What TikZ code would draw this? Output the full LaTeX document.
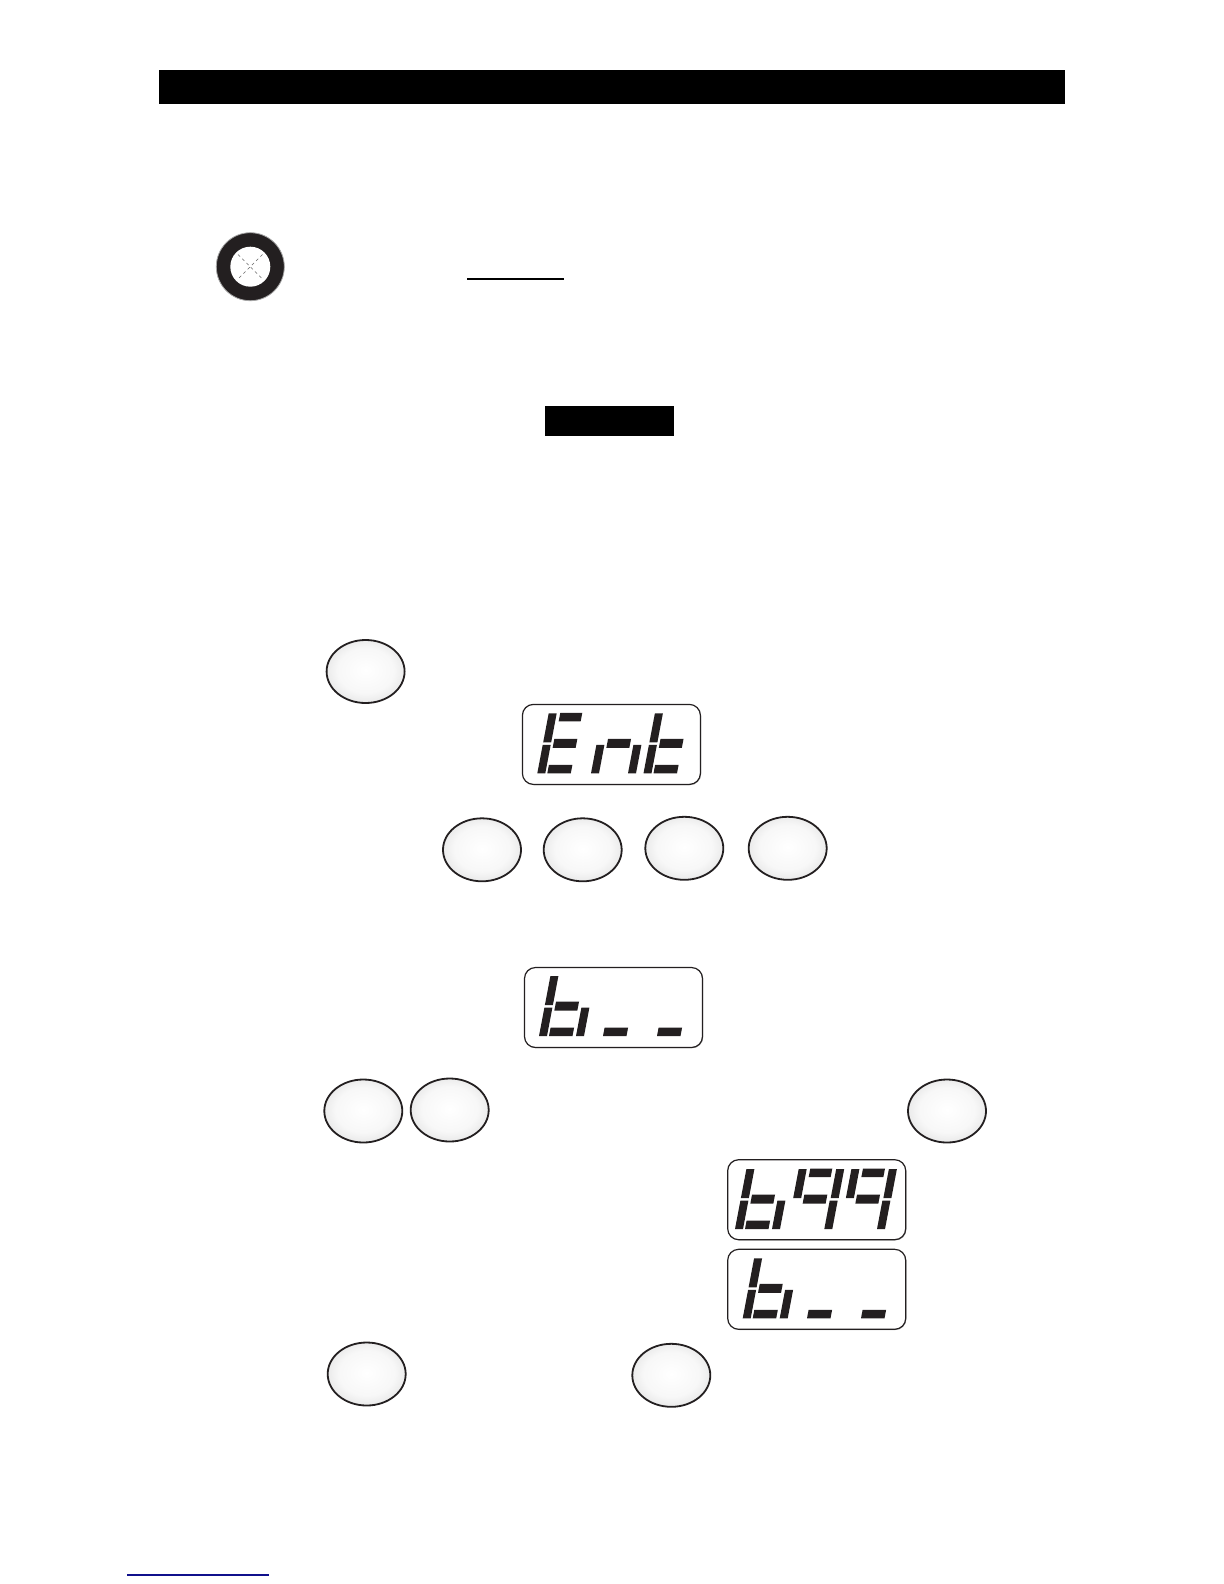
\documentclass[tikz,border=0pt]{standalone}
\usepackage{xcolor}
\usetikzlibrary{
  shapes.geometric,
  shadows
}
\definecolor{lcdInk}{HTML}{231F20}
\definecolor{lcdLink}{HTML}{10108C}
\pgfdeclareradialshading{keyglow}{\pgfpoint{0bp}{1bp}}{
  color(0bp)=(white);
  color(18bp)=(black!3);
  color(25bp)=(black!8);
  color(29bp)=(black!20);
  color(33bp)=(black!45);
  color(100bp)=(black!45)
}
\tikzset{
  keybtn/.style={
    draw=lcdInk, ellipse, line width=.9pt, inner sep=0pt, outer sep=0pt,
    minimum width=39pt, minimum height=31.5pt, shading=keyglow
  },
  lcdbox/.style={
    draw=lcdInk, fill=white, rounded corners=5.5pt, line width=.6pt, inner sep=0pt,
    minimum width=89pt, minimum height=40pt,
    drop shadow={shadow xshift=.35pt, shadow yshift=-.35pt, fill=black!60, opacity=.6}
  },
  lcdseg/.style={fill=lcdInk},
  headbar/.style={fill=black},
  ruleline/.style={line width=.65pt}
}
\newcommand{\segA}{\fill[lcdseg] (11.5,-52) rectangle (33.5,-60.5);}
\newcommand{\segB}{\fill[lcdseg] (37.5,-31) rectangle (45.5,-60);}
\newcommand{\segC}{\fill[lcdseg] (37,0) rectangle (45,-28.5);}
\newcommand{\segD}{\fill[lcdseg] (10,0) rectangle (33.5,-8.5);}
\newcommand{\segE}{\fill[lcdseg] (0,0) rectangle (8,-28.5);}
\newcommand{\segF}{\fill[lcdseg] (0,-31) rectangle (8,-60);}
\newcommand{\segG}{\fill[lcdseg] (10.5,-25.5) rectangle (33.5,-34.5);}
\newcommand{\lcdchar}[3]{
  \begin{scope}[shift={(#1,#2)}, xslant=.19]
    \foreach \s in {#3} {\csname seg\s\endcsname}
  \end{scope}
}
\begin{document}
\begin{tikzpicture}[x=.5pt, y=-.5pt]
  \useasboundingbox (0,0) rectangle (1224,1584);
  \fill[headbar] (159,70) rectangle (1065,104);
  \fill[headbar] (545,406) rectangle (674,436);

  \node[circle, draw=black!35, fill=lcdInk, line width=.4pt, inner sep=0pt, minimum size=34pt] (ringOuter) at (250.3,266.7) {};
  \node[circle, fill=white, inner sep=0pt, minimum size=20pt] (ringInner) at (ringOuter) {};
  \draw[black!60, line width=.25pt, dash pattern=on 1.5pt off 1.5pt] (238,254.5) -- (262.5,279);
  \draw[black!60, line width=.25pt, dash pattern=on 1.5pt off 1.5pt] (262.5,254.5) -- (238,279);
  \draw[ruleline] (467,279) -- (564,279);
  \draw[ruleline, lcdLink] (127,1575) -- (269,1575);

  \node[keybtn] (keyMenu) at (365.6,671.5) {};
  \node[keybtn] (keyA) at (482,849.8) {};
  \node[keybtn] (keyB) at (582.7,849.8) {};
  \node[keybtn] (keyC) at (684.3,848.3) {};
  \node[keybtn] (keyD) at (787.7,848.3) {};
  \node[keybtn] (keyE) at (363.3,1111) {};
  \node[keybtn] (keyF) at (449.7,1110) {};
  \node[keybtn] (keyG) at (947,1111) {};
  \node[keybtn] (keyH) at (366.7,1374) {};
  \node[keybtn] (keyI) at (671.3,1375.3) {};

  \node[lcdbox] (lcdEnt) at (611.4,744.4) {};
  \lcdchar{537.3}{773.3}{A,F,G,E,D}
  \lcdchar{591}{773.3}{E,G,C}
  \lcdchar{643.5}{773.3}{F,E,G,D}

  \node[lcdbox] (lcdBlank) at (613.5,1007.5) {};
  \lcdchar{539}{1036}{F,E,G,C,D}
  \lcdchar{593}{1036}{D}
  \lcdchar{647}{1036}{D}

  \node[lcdbox] (lcdFull) at (816.7,1199.7) {};
  \lcdchar{735}{1229}{F,E,G,C,D}
  \lcdchar{787.3}{1229}{A,F,B,G,C}
  \lcdchar{840}{1229}{A,F,B,G,C}

  \node[lcdbox] (lcdReset) at (816.7,1289.3) {};
  \lcdchar{742.7}{1318.3}{F,E,G,C,D}
  \lcdchar{797}{1318.3}{D}
  \lcdchar{851}{1318.3}{D}
\end{tikzpicture}
\end{document}
